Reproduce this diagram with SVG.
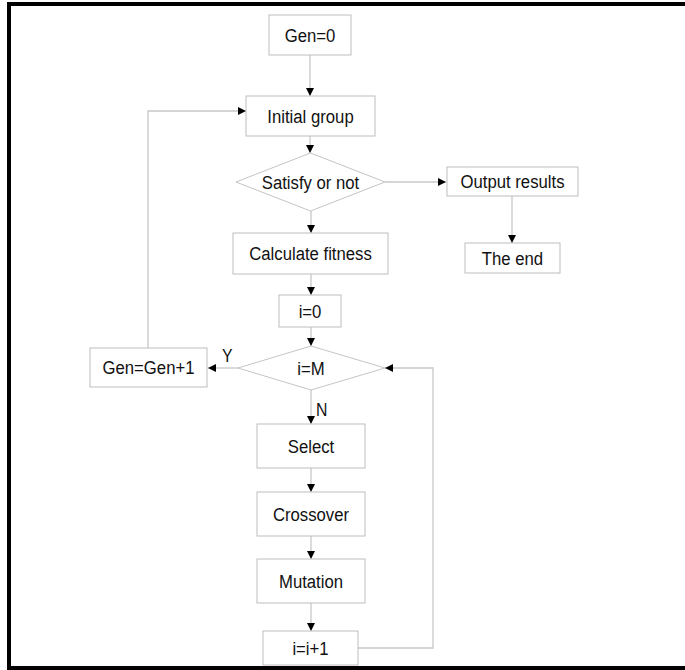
<svg xmlns="http://www.w3.org/2000/svg" width="685" height="670" viewBox="0 0 685 670">
  <defs>
    <style>
      .box { fill: #ffffff; stroke: #bdbdbd; stroke-width: 1; }
      .dia { fill: #ffffff; stroke: #c4c4c4; stroke-width: 1; }
      .lbl { font-family: "Liberation Sans", Arial, sans-serif; font-size: 19px; fill: #111111; text-anchor: middle; }
      .tag { font-family: "Liberation Sans", Arial, sans-serif; font-size: 18px; fill: #111111; }
      .edge { fill: none; stroke: #c8c8c8; stroke-width: 1.3; }
    </style>
    <marker id="arrow" viewBox="0 0 8 8" refX="8" refY="4" markerWidth="8" markerHeight="8" markerUnits="userSpaceOnUse" orient="auto">
      <path d="M0,0 L8,4 L0,8 Z" fill="#000000"/>
    </marker>
  </defs>

  <rect x="0" y="0" width="685" height="670" fill="#ffffff"/>
  <!-- outer frame -->
  <rect x="9" y="4" width="700" height="664" fill="none" stroke="#000000" stroke-width="4"/>

  <g id="connectors">
    <path class="edge" d="M310,55 V96" marker-end="url(#arrow)"/>
    <path class="edge" d="M310,136 V153" marker-end="url(#arrow)"/>
    <path class="edge" d="M385,182 H446" marker-end="url(#arrow)"/>
    <path class="edge" d="M512,196 V243" marker-end="url(#arrow)"/>
    <path class="edge" d="M311,211 V233" marker-end="url(#arrow)"/>
    <path class="edge" d="M311,274 V295" marker-end="url(#arrow)"/>
    <path class="edge" d="M311,327 V346" marker-end="url(#arrow)"/>
    <path class="edge" d="M238,368 H208" marker-end="url(#arrow)"/>
    <path class="edge" d="M148,348 V111 H246" marker-end="url(#arrow)"/>
    <path class="edge" d="M311,390 V424" marker-end="url(#arrow)"/>
    <path class="edge" d="M311,468 V492" marker-end="url(#arrow)"/>
    <path class="edge" d="M311,536 V559" marker-end="url(#arrow)"/>
    <path class="edge" d="M311,603 V631" marker-end="url(#arrow)"/>
    <path class="edge" d="M358,648 H433 V368 H385" marker-end="url(#arrow)"/>
    <text class="tag" transform="translate(222,362) scale(0.88,1)">Y</text>
    <text class="tag" transform="translate(316,416) scale(0.88,1)">N</text>
  </g>

  <g id="gen0">
    <rect class="box" x="269" y="15" width="82" height="40"/>
    <text class="lbl" transform="translate(310,42) scale(0.88,1)">Gen=0</text>
  </g>
  <g id="initial-group">
    <rect class="box" x="246" y="96" width="129" height="40"/>
    <text class="lbl" transform="translate(310.5,123) scale(0.88,1)">Initial group</text>
  </g>
  <g id="satisfy">
    <polygon class="dia" points="236,182 310.5,153 385,182 310.5,211"/>
    <text class="lbl" transform="translate(310.5,189) scale(0.88,1)">Satisfy or not</text>
  </g>
  <g id="output-results">
    <rect class="box" x="447" y="167" width="131" height="29"/>
    <text class="lbl" transform="translate(512.5,188) scale(0.88,1)">Output results</text>
  </g>
  <g id="the-end">
    <rect class="box" x="465" y="243" width="95" height="30"/>
    <text class="lbl" transform="translate(512.5,265) scale(0.88,1)">The end</text>
  </g>
  <g id="calc-fitness">
    <rect class="box" x="233" y="233" width="155" height="41"/>
    <text class="lbl" transform="translate(310.5,260) scale(0.88,1)">Calculate fitness</text>
  </g>
  <g id="i0">
    <rect class="box" x="279" y="295" width="62" height="32"/>
    <text class="lbl" transform="translate(310,318) scale(0.88,1)">i=0</text>
  </g>
  <g id="i-eq-m">
    <polygon class="dia" points="238,368 311,346 385,368 311,390"/>
    <text class="lbl" transform="translate(311,375) scale(0.88,1)">i=M</text>
  </g>
  <g id="gen-inc">
    <rect class="box" x="90" y="348" width="117" height="39"/>
    <text class="lbl" transform="translate(148.5,374) scale(0.88,1)">Gen=Gen+1</text>
  </g>
  <g id="select">
    <rect class="box" x="257" y="424" width="108" height="44"/>
    <text class="lbl" transform="translate(311,453) scale(0.88,1)">Select</text>
  </g>
  <g id="crossover">
    <rect class="box" x="257" y="492" width="108" height="44"/>
    <text class="lbl" transform="translate(311,521) scale(0.88,1)">Crossover</text>
  </g>
  <g id="mutation">
    <rect class="box" x="257" y="559" width="108" height="44"/>
    <text class="lbl" transform="translate(311,588) scale(0.88,1)">Mutation</text>
  </g>
  <g id="i-inc">
    <rect class="box" x="263" y="631" width="95" height="34"/>
    <text class="lbl" transform="translate(310.5,655) scale(0.88,1)">i=i+1</text>
  </g>
</svg>
